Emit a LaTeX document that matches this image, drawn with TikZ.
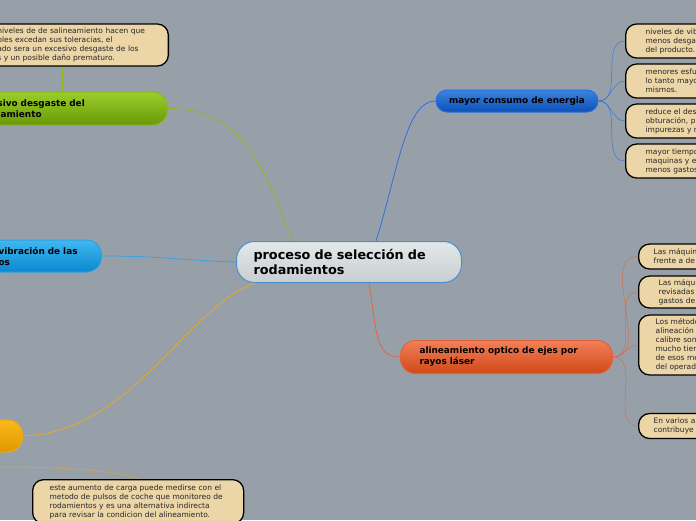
\documentclass[tikz,border=0pt]{standalone}
\usepackage{fontspec}
\setmainfont{DejaVu Sans}
\usetikzlibrary{positioning}

\definecolor{bgc}{RGB}{151,160,168}
\definecolor{tanc}{RGB}{236,214,168}
\definecolor{rootfill}{RGB}{214,221,223}
\definecolor{rootline}{RGB}{74,144,206}
\definecolor{bluetop}{RGB}{58,132,224}
\definecolor{bluebot}{RGB}{12,80,184}
\definecolor{bluelink}{RGB}{40,110,225}
\definecolor{greentop}{RGB}{154,206,42}
\definecolor{greenbot}{RGB}{106,152,8}
\definecolor{greenlink}{RGB}{138,184,32}
\definecolor{skytop}{RGB}{64,184,240}
\definecolor{skybot}{RGB}{8,136,208}
\definecolor{skylink}{RGB}{50,160,225}
\definecolor{ambertop}{RGB}{250,186,24}
\definecolor{amberbot}{RGB}{224,152,0}
\definecolor{amberlink}{RGB}{232,170,32}
\definecolor{redtop}{RGB}{242,128,88}
\definecolor{redbot}{RGB}{208,72,24}
\definecolor{redlink}{RGB}{226,98,64}

\tikzset{every picture/.style={line width=0.75pt}}
\tikzset{
  topic/.style={rounded corners=11pt, line width=1pt, align=left, inner ysep=0pt,
    font=\bfseries\fontsize{8.9}{11}\selectfont},
  leaf/.style={draw=black, line width=1.3pt, fill=tanc, rounded corners=11pt, text=black!85,
    align=left, inner ysep=2pt, font=\fontsize{7.5}{9}\selectfont},
  twig/.style={line width=0.5pt, opacity=0.8}
}

\begin{document}
\begin{tikzpicture}[x=1pt,y=1pt,yscale=-1,xscale=1]
\useasboundingbox (0,0) rectangle (696,520);
\fill[bgc] (0,0) rectangle (696,520);
\clip (0,0) rectangle (696,520);

%Node: central topic
\node[topic, draw=rootline, top color=rootfill!70!white, bottom color=rootfill!85!gray,
  rounded corners=18pt, anchor=north west, text width=191, inner xsep=17, minimum height=41,
  font=\bfseries\fontsize{12.8}{15}\selectfont] (root) at (236,241) {proceso de selección de\\rodamientos};

%Node: main topics
\node[topic, draw=bluelink, top color=bluetop, bottom color=bluebot, align=center,
  minimum width=162, minimum height=22, inner xsep=0pt] (energia) at (517,101) {mayor consumo de energia};
\node[topic, draw=redlink, top color=redtop, bottom color=redbot, rounded corners=15pt,
  anchor=north west, text width=174, inner xsep=19, minimum height=33] (laser) at (400,340) {alineamiento optico de ejes por\\rayos láser};
\node[topic, draw=greenlink, top color=greentop, bottom color=greenbot, rounded corners=15pt,
  anchor=east, text width=157, inner xsep=13, minimum height=33] (desgaste) at (168,108.5) {sivo desgaste del\\lamiento};
\node[topic, draw=skylink, top color=skytop, bottom color=skybot, rounded corners=15pt,
  anchor=east, text width=90, inner xsep=13, minimum height=32] (vibra) at (102,256) {vibración de las\\os};
\node[topic, draw=amberlink, top color=ambertop, bottom color=amberbot, rounded corners=15pt,
  anchor=east, minimum width=70, minimum height=32] (carga) at (23,436) {};

%Node: notes of energia
\node[leaf, anchor=west, text width=120, inner xsep=20, minimum height=34] (prod) at (625,41) {niveles de vib\\menos desgas\\del producto.};
\node[leaf, anchor=west, text width=120, inner xsep=20, minimum height=34] (esfu) at (625,81) {menores esfu\\lo tanto mayo\\mismos.};
\node[leaf, anchor=west, text width=120, inner xsep=20, minimum height=34] (obtu) at (625,121) {reduce el des\\obturación, p\\impurezas y r};
\node[leaf, anchor=west, text width=120, inner xsep=20, minimum height=34] (tiempo) at (625,161) {mayor tiempo\\maquinas y e\\menos gastos};

%Node: notes of laser
\node[leaf, anchor=west, text width=120, inner xsep=15, minimum height=25] (frente) at (638,256.5) {Las máquin\\frente a de};
\node[leaf, anchor=west, text width=120, inner xsep=20, minimum height=32] (revis) at (638,292) {Las máqui\\revisadas\\gastos de};
\node[leaf, anchor=west, text width=120, inner xsep=17, minimum height=60] (metodo) at (638,345) {Los método\\alineación\\calibre son\\mucho tien\\de esos mé\\del operad};
\node[leaf, anchor=west, text width=120, inner xsep=15, minimum height=25] (varios) at (638,426) {En varios a\\contribuye};

%Node: notes of left side
\node[leaf, anchor=east, text width=158, inner xsep=13, minimum height=42] (salin) at (169,45) {niveles de de salineamiento hacen que\\ples excedan sus toleracias, el\\ado sera un excesivo desgaste de los\\s y un posible daño prematuro.};
\node[leaf, anchor=north west, text width=177, inner xsep=17, minimum height=44] (pulsos) at (32,479) {este aumento de carga puede medirse con el\\metodo de pulsos de coche que monitoreo de\\rodamientos y es una alternativa indirecta\\para revisar la condicion del alineamiento.};
\coordinate (fromleft) at (0,467);

%Curves: root to main topics
\draw[greenlink] (desgaste.east) .. controls +(75,0) and +(-30,-75) .. ([xshift=-56pt]root.north);
\draw[bluelink] ([xshift=27pt]root.north) .. controls +(22,-70) and +(-30,0) .. (energia.west);
\draw[redlink] ([xshift=20pt]root.south) .. controls +(8,50) and +(-25,0) .. (laser.west);
\draw[skylink] (vibra.east) .. controls +(60,0) and +(-60,-2) .. (root.west);
\draw[amberlink] (carga.east) .. controls +(110,-4) and +(-70,25) .. ([xshift=-94pt]root.south);

%Curves: to notes
\draw[greenlink, line width=0.5pt] (salin.south -| 62,0) -- (desgaste.north -| 62,0);
\draw[amberlink, twig] (fromleft) .. controls (60,467) and (115,470) .. (pulsos.north);
\foreach \n in {prod,esfu,obtu,tiempo}
  \draw[bluelink, twig] (energia.east) to[out=0,in=180] (\n.west);
\foreach \n in {frente,revis,metodo,varios}
  \draw[redlink, twig] (laser.east) to[out=0,in=180] (\n.west);

\end{tikzpicture}
\end{document}
